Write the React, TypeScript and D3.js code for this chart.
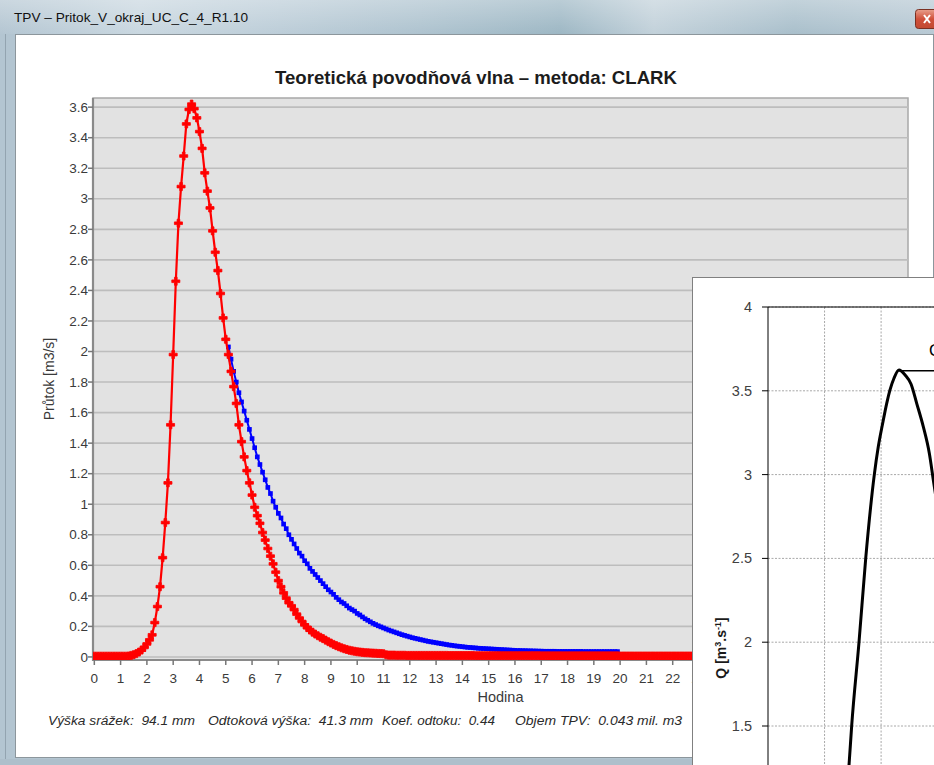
import React from 'react';
import * as d3 from 'd3';

const W = 934;
const H = 765;

const windowTitle = 'TPV – Pritok_V_okraj_UC_C_4_R1.10';
const chartTitle = 'Teoretická povodňová vlna – metoda: CLARK';
const xLabel = 'Hodina';
const yLabel = 'Průtok [m3/s]';
const footerItems = ['Výška srážek:  94.1 mm', 'Odtoková výška:  41.3 mm', 'Koef. odtoku:  0.44', 'Objem TPV:  0.043 mil. m3'];

const xTicks = [0, 1, 2, 3, 4, 5, 6, 7, 8, 9, 10, 11, 12, 13, 14, 15, 16, 17, 18, 19, 20, 21, 22, 23, 24, 25, 26, 27, 28, 29, 30];
const yTicks = [0, 0.2, 0.4, 0.6, 0.8, 1, 1.2, 1.4, 1.6, 1.8, 2, 2.2, 2.4, 2.6, 2.8, 3, 3.2, 3.4, 3.6];

// time step of both hydrographs [h]
const stepH = 0.1;
const redStart = 0;
const redQ = [
  0.005, 0.005, 0.005, 0.005, 0.005, 0.005, 0.005, 0.005, 0.005, 0.005,
  0.005, 0.005, 0.005, 0.006, 0.01, 0.015, 0.022, 0.032, 0.045, 0.062,
  0.085, 0.112, 0.145, 0.225, 0.33, 0.46, 0.65, 0.88, 1.14, 1.52,
  1.98, 2.46, 2.84, 3.08, 3.28, 3.49, 3.585, 3.62, 3.59, 3.53,
  3.44, 3.33, 3.17, 3.05, 2.94, 2.79, 2.65, 2.53, 2.38, 2.22,
  2.08, 1.98, 1.87, 1.77, 1.66, 1.52, 1.41, 1.31, 1.22, 1.14,
  1.06, 0.98, 0.925, 0.875, 0.815, 0.765, 0.71, 0.66, 0.61, 0.555,
  0.5, 0.46, 0.42, 0.385, 0.355, 0.335, 0.31, 0.28, 0.255, 0.232,
  0.21, 0.192, 0.176, 0.162, 0.15, 0.139, 0.129, 0.12, 0.11, 0.1,
  0.091, 0.082, 0.074, 0.067, 0.06, 0.054, 0.049, 0.044, 0.04, 0.037,
  0.034, 0.032, 0.03, 0.028, 0.027, 0.026, 0.025, 0.024, 0.023, 0.022,
  0.021, 0.014, 0.012, 0.012, 0.012, 0.011, 0.011, 0.011, 0.011, 0.01,
  0.01, 0.01, 0.01, 0.01, 0.01, 0.01, 0.01, 0.01, 0.01, 0.01,
  0.01, 0.01, 0.01, 0.01, 0.01, 0.009, 0.009, 0.009, 0.009, 0.009,
  0.009, 0.009, 0.009, 0.009, 0.009, 0.008, 0.008, 0.008, 0.008, 0.008,
  0.008, 0.008, 0.008, 0.008, 0.008, 0.008, 0.008, 0.008, 0.008, 0.008,
  0.008, 0.008, 0.008, 0.008, 0.008, 0.008, 0.008, 0.008, 0.008, 0.008,
  0.007, 0.007, 0.007, 0.007, 0.007, 0.007, 0.007, 0.007, 0.007, 0.007,
  0.007, 0.007, 0.007, 0.007, 0.007, 0.007, 0.007, 0.007, 0.007, 0.007,
  0.007, 0.007, 0.007, 0.007, 0.007, 0.007, 0.007, 0.007, 0.007, 0.007,
  0.006, 0.006, 0.006, 0.006, 0.006, 0.006, 0.006, 0.006, 0.006, 0.006,
  0.006, 0.006, 0.006, 0.006, 0.006, 0.006, 0.006, 0.006, 0.006, 0.006,
  0.006, 0.006, 0.006, 0.006, 0.006, 0.006, 0.006, 0.006, 0.006, 0.006,
  0.006,
];

const blueStart = 5.1;
const blueQ = [
  2.03, 1.95, 1.87, 1.8, 1.73, 1.67, 1.61, 1.55, 1.49, 1.43,
  1.37, 1.31, 1.26, 1.21, 1.16, 1.11, 1.07, 1.02, 0.98, 0.94,
  0.91, 0.87, 0.84, 0.8, 0.77, 0.74, 0.71, 0.68, 0.66, 0.63,
  0.61, 0.58, 0.56, 0.54, 0.52, 0.5, 0.48, 0.46, 0.44, 0.425,
  0.41, 0.39, 0.375, 0.36, 0.35, 0.335, 0.32, 0.31, 0.3, 0.285,
  0.275, 0.262, 0.25, 0.24, 0.23, 0.22, 0.212, 0.204, 0.197, 0.19,
  0.183, 0.176, 0.17, 0.164, 0.158, 0.152, 0.146, 0.141, 0.136, 0.131,
  0.126, 0.122, 0.118, 0.114, 0.11, 0.106, 0.102, 0.099, 0.096, 0.093,
  0.09, 0.087, 0.084, 0.081, 0.078, 0.076, 0.073, 0.071, 0.069, 0.067,
  0.065, 0.063, 0.062, 0.06, 0.059, 0.057, 0.056, 0.055, 0.054, 0.053,
  0.052, 0.051, 0.05, 0.049, 0.048, 0.047, 0.046, 0.045, 0.044, 0.043,
  0.042, 0.042, 0.041, 0.041, 0.04, 0.04, 0.039, 0.039, 0.038, 0.038,
  0.037, 0.037, 0.037, 0.037, 0.037, 0.036, 0.036, 0.036, 0.036, 0.036,
  0.036, 0.036, 0.036, 0.036, 0.036, 0.035, 0.035, 0.035, 0.035, 0.035,
  0.035, 0.035, 0.035, 0.035, 0.035, 0.035, 0.035, 0.035, 0.035,
];

// inset (second) hydrograph
const insetYTicks = [0, 0.5, 1, 1.5, 2, 2.5, 3, 3.5, 4];
const insetYLabels = ['0', '0.5', '1', '1.5', '2', '2.5', '3', '3.5', '4'];
const insetXGrid = [1.5, 3, 4.5];
const insetT = [2.0, 2.149, 2.22, 2.414, 2.592, 2.82, 2.926, 3.042, 3.149, 3.236, 3.342, 3.475, 3.637, 3.796, 3.944, 4.119, 4.279, 4.385, 4.6];
const insetQ = [0.9, 1.267, 1.502, 2.0, 2.5, 3.0, 3.167, 3.306, 3.425, 3.505, 3.575, 3.624, 3.594, 3.539, 3.425, 3.286, 3.127, 2.968, 2.65];
const insetPeakT = 3.475;
const insetPeakQ = 3.62;

const SANS = '"Liberation Sans", Arial, sans-serif';

export default function App() {
  const x = d3.scaleLinear().domain([-0.05, 30.95]).range([93, 908]);
  const y = d3.scaleLinear().domain([-0.02, 3.66]).range([660, 98]);

  const red = redQ.map((q, i) => ({ t: redStart + i * stepH, q }));
  const blue = blueQ.map((q, i) => ({ t: blueStart + i * stepH, q }));
  const line = d3.line<{ t: number; q: number }>().x(d => x(d.t)).y(d => y(d.q));
  const crossPath = d3.symbol().type(d3.symbolCross).size(36)() as string;
  const squarePath = d3.symbol().type(d3.symbolSquare).size(22)() as string;

  const ix = d3.scaleLinear().domain([0, 4.5]).range([768, 937.65]);
  const iy = d3.scaleLinear().domain([0, 4]).range([977.4, 307]);
  const insetPts = insetT.map((t, i) => [t, insetQ[i]] as [number, number]);
  const insetLine = d3.line<[number, number]>().x(d => ix(d[0])).y(d => iy(d[1])).curve(d3.curveMonotoneX);
  const visibleInsetTicks = insetYTicks.map((v, i) => ({ v, label: insetYLabels[i] })).filter(d => iy(d.v) < H - 10);

  const footerX = [48, 208, 382, 515];
  const footerLen = [147, 165, 113, 167];
  const plotL = 93, plotR = 908, plotT = 98, plotB = 660;

  return (
    <svg width={W} height={H} style={{ position: 'absolute', left: 0, top: 0 }} xmlns="http://www.w3.org/2000/svg">
      <defs>
        <linearGradient id="tb" x1="0" x2="1" y1="0" y2="0">
          <stop offset="0" stopColor="#b4c6d2" />
          <stop offset="0.15" stopColor="#c9d7e0" />
          <stop offset="0.3" stopColor="#bccdd8" />
          <stop offset="0.45" stopColor="#aec3cf" />
          <stop offset="0.6" stopColor="#9db7c4" />
          <stop offset="0.7" stopColor="#c2d1da" />
          <stop offset="0.85" stopColor="#a9bfcb" />
          <stop offset="1" stopColor="#b8c9d4" />
        </linearGradient>
        <linearGradient id="tbv" x1="0" x2="0" y1="0" y2="1">
          <stop offset="0" stopColor="#ffffff" stopOpacity="0.3" />
          <stop offset="1" stopColor="#ffffff" stopOpacity="0" />
        </linearGradient>
        <linearGradient id="cls" x1="0" x2="0" y1="0" y2="1">
          <stop offset="0" stopColor="#e8a08c" />
          <stop offset="0.5" stopColor="#d0503a" />
          <stop offset="1" stopColor="#c24a32" />
        </linearGradient>
        <clipPath id="plotClip">
          <rect x={plotL} y={plotT - 6} width={plotR - plotL} height={plotB - plotT + 6} />
        </clipPath>
        <clipPath id="insetClip">
          <rect x={693} y={278} width={W - 693} height={H - 278} />
        </clipPath>
      </defs>

      {/* window frame */}
      <rect x={0} y={0} width={W} height={H} fill="#b3c5d1" />
      <rect x={0} y={0} width={W} height={34} fill="url(#tb)" />
      <rect x={0} y={0} width={W} height={34} fill="url(#tbv)" />
      <line x1={5.5} x2={5.5} y1={34} y2={762} stroke="#93a4b0" strokeWidth={1} />
      <text x={14} y={22} fontFamily={SANS} fontSize={13} fill="#111" textLength={234} lengthAdjust="spacingAndGlyphs">{windowTitle}</text>
      <rect x={915.5} y={9.5} width={24} height={19} rx={3} fill="url(#cls)" stroke="#7a3022" strokeWidth={1} />
      <path d="M924,15 L930,23 M930,15 L924,23" stroke="#ffffff" strokeWidth={2} />

      {/* client area */}
      <rect x={15.5} y={34.5} width={918} height={723} fill="#ffffff" stroke="#8c969c" strokeWidth={1} />
      <rect x={0} y={759} width={W} height={6} fill="#aebfcb" />

      {/* chart title */}
      <text x={275} y={84} fontFamily={SANS} fontSize={18.5} fontWeight="bold" fill="#1c1c1c" textLength={402} lengthAdjust="spacingAndGlyphs">{chartTitle}</text>

      {/* plot area */}
      <rect x={plotL} y={plotT} width={plotR - plotL} height={plotB - plotT} fill="#e2e2e2" stroke="#a8a8a8" strokeWidth={1.5} />
      {yTicks.map(v => (
        <line key={'g' + v} x1={plotL} x2={plotR} y1={y(v)} y2={y(v)} stroke="#bdbdbd" strokeWidth={1.6} />
      ))}
      <line x1={plotL} x2={plotL} y1={plotT} y2={plotB + 1} stroke="#8a8a8a" strokeWidth={2.2} />
      <line x1={plotL - 1} x2={plotR} y1={plotB} y2={plotB} stroke="#8a8a8a" strokeWidth={2.2} />

      {yTicks.map(v => (
        <g key={'yt' + v}>
          <line x1={plotL - 5} x2={plotL} y1={y(v)} y2={y(v)} stroke="#777" strokeWidth={1.5} />
          <text x={88} y={y(v) + 4.7} textAnchor="end" fontFamily={SANS} fontSize={13.5} fill="#3a3a3a">{d3.format('~g')(v)}</text>
        </g>
      ))}
      {xTicks.map(v => (
        <g key={'xt' + v}>
          <line x1={x(v)} x2={x(v)} y1={plotB} y2={plotB + 5} stroke="#777" strokeWidth={1.5} />
          <text x={x(v)} y={683} textAnchor="middle" fontFamily={SANS} fontSize={13.5} fill="#3a3a3a">{v}</text>
        </g>
      ))}
      <text x={(plotL + plotR) / 2} y={702} textAnchor="middle" fontFamily={SANS} fontSize={14.5} fill="#3a3a3a">{xLabel}</text>
      <text transform={`translate(54,${(plotT + plotB) / 2}) rotate(-90)`} textAnchor="middle" fontFamily={SANS} fontSize={14} fill="#3a3a3a">{yLabel}</text>

      {/* series */}
      <g clipPath="url(#plotClip)">
        <path d={line(blue) as string} fill="none" stroke="#0000ff" strokeWidth={2} />
        {blue.map((d, i) => (
          <path key={'b' + i} d={squarePath} transform={`translate(${x(d.t)},${y(d.q)})`} fill="#0000ff" />
        ))}
        <path d={line(red) as string} fill="none" stroke="#ff0000" strokeWidth={2.2} />
        {red.map((d, i) => (
          <path key={'r' + i} d={crossPath} transform={`translate(${x(d.t)},${y(d.q)})`} fill="#ff0000" stroke="#ff0000" strokeWidth={0.8} strokeLinejoin="round" />
        ))}
      </g>

      {/* footer */}
      {footerItems.map((s, i) => (
        <text key={'f' + i} x={footerX[i]} y={725} fontFamily={SANS} fontSize={12.5} fontStyle="italic" fill="#2a2a2a" textLength={footerLen[i]} lengthAdjust="spacingAndGlyphs" style={{ whiteSpace: 'pre' }}>{s}</text>
      ))}

      {/* inset chart */}
      <rect x={692.5} y={277.5} width={260} height={500} fill="#ffffff" stroke="#808080" strokeWidth={1} />
      <g clipPath="url(#insetClip)">
        {insetYTicks.map(v => (
          <line key={'ig' + v} x1={ix(0)} x2={W} y1={iy(v)} y2={iy(v)} stroke="#a8a8a8" strokeWidth={1} strokeDasharray="2,1.5" />
        ))}
        {insetXGrid.map(v => (
          <line key={'ixg' + v} x1={ix(v)} x2={ix(v)} y1={iy(4)} y2={H} stroke="#a8a8a8" strokeWidth={1} strokeDasharray="2,1.5" />
        ))}
        <line x1={ix(0)} x2={W} y1={iy(4)} y2={iy(4)} stroke="#000" strokeWidth={1} />
        <line x1={ix(0)} x2={ix(0)} y1={iy(4)} y2={H} stroke="#000" strokeWidth={1} />
        {visibleInsetTicks.map(d => (
          <g key={'iyt' + d.v}>
            <line x1={ix(0) - 6} x2={ix(0)} y1={iy(d.v)} y2={iy(d.v)} stroke="#000" strokeWidth={1} />
            <text x={752} y={iy(d.v) + 5} textAnchor="end" fontFamily={SANS} fontSize={14.5} fill="#404040">{d.label}</text>
          </g>
        ))}
        <text transform="translate(726,648) rotate(-90)" textAnchor="middle" fontFamily={SANS} fontSize={14} fontWeight="bold" fill="#1a1a1a">
          Q [m<tspan dy={-5} fontSize={9}>3</tspan><tspan dy={5}>.s</tspan><tspan dy={-5} fontSize={9}>-1</tspan><tspan dy={5}>]</tspan>
        </text>
        <path d={insetLine(insetPts) as string} fill="none" stroke="#000" strokeWidth={3} strokeLinejoin="round" />
        <line x1={ix(insetPeakT)} x2={W} y1={iy(insetPeakQ)} y2={iy(insetPeakQ)} stroke="#000" strokeWidth={1.5} />
        <text x={929} y={356} fontFamily={SANS} fontSize={17} fill="#000">Q</text>
      </g>
    </svg>
  );
}
